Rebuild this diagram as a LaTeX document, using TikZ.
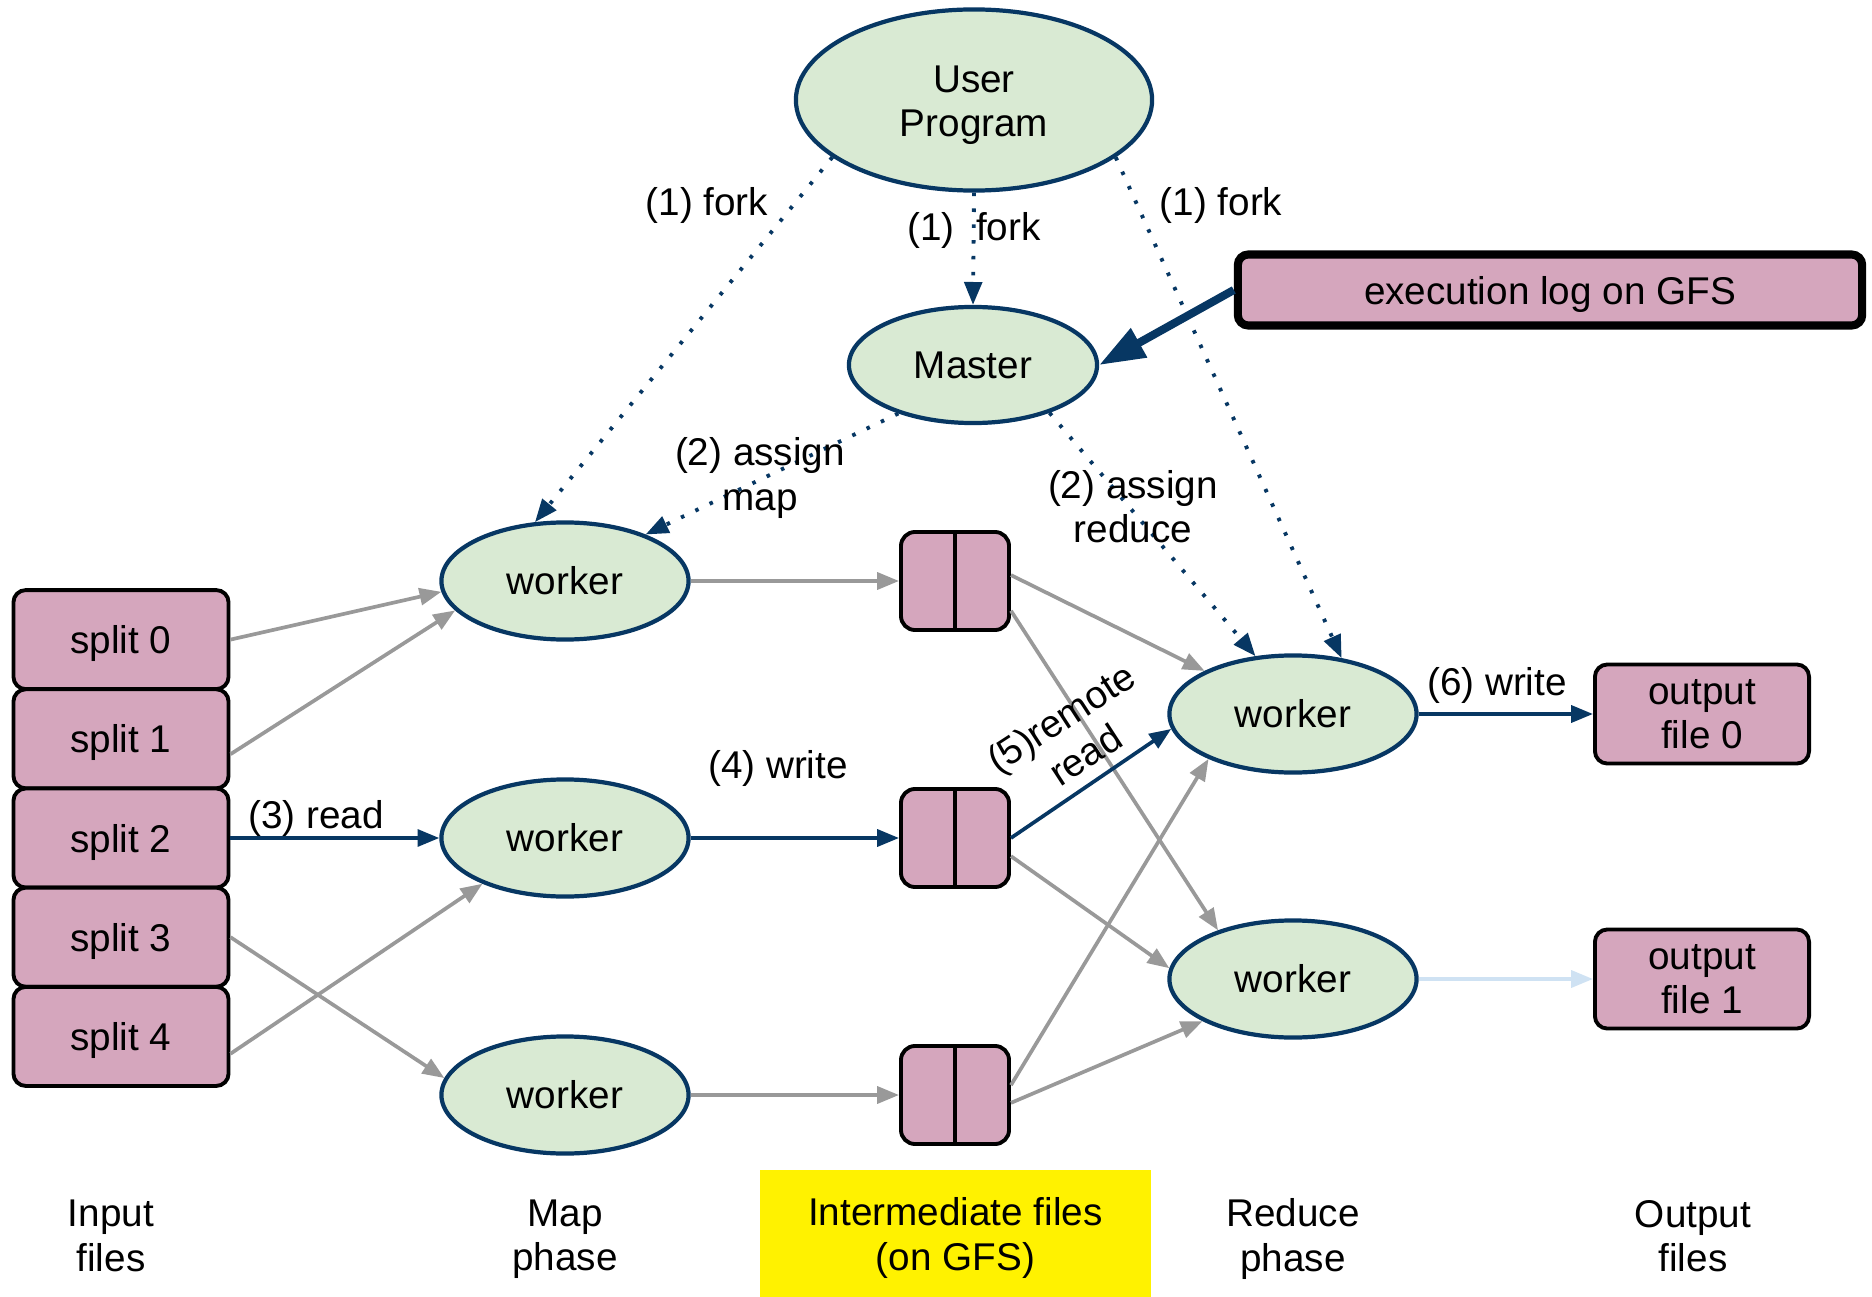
\documentclass[tikz,border=0pt]{standalone}
\usepackage{fontspec}
\setmainfont{Liberation Sans}
\usetikzlibrary{shapes.geometric,arrows.meta}
\definecolor{navy}{HTML}{073763}
\definecolor{lgreen}{HTML}{D9EAD3}
\definecolor{pinkf}{HTML}{D5A6BD}
\definecolor{grayar}{HTML}{999999}
\definecolor{lblue}{HTML}{CFE2F3}
\begin{document}
\begin{tikzpicture}[x=0.01cm,y=-0.01cm, font=\fontsize{11}{12.6}\selectfont,
  proc/.style={ellipse, draw=navy, line width=1.2pt, fill=lgreen, inner sep=0pt, align=center},
  filebox/.style={draw=black, line width=1.1pt, fill=pinkf, rounded corners=3.5pt, inner sep=0pt, align=center, text depth=0pt},
  worker/.style={proc, minimum width=2.47cm, minimum height=1.17cm},
  split/.style={filebox, minimum width=2.15cm, minimum height=0.99cm},
  inter/.style={filebox, rounded corners=4pt, minimum width=1.08cm, minimum height=0.98cm},
  outbox/.style={filebox, minimum width=2.14cm, minimum height=0.99cm},
  garr/.style={draw=grayar, line width=1.05pt, -{Triangle[length=6.2pt,width=4.8pt]}},
  barr/.style={draw=navy, line width=1.05pt, -{Triangle[length=6.2pt,width=4.8pt]}},
  larr/.style={draw=lblue, line width=1.05pt, -{Triangle[length=6.2pt,width=4.8pt]}},
  darr/.style={draw=navy, line width=1.1pt, dash pattern=on 1pt off 3.5pt, -{Triangle[length=6.5pt,width=5pt]}},
  lbl/.style={align=center, inner sep=0pt}
]
\useasboundingbox (0,0) rectangle (1872,1297);
% bottom labels
\fill[yellow] (760,1170) rectangle (1151,1297);
\node[lbl] (interlbl) at (955.5,1238) {Intermediate files\\(on GFS)};
\node[lbl] (inlbl) at (111,1236) {Input\\files};
\node[lbl] (maplbl) at (565,1239) {Map\\phase};
\node[lbl] (redlbl) at (1293,1239) {Reduce\\phase};
\node[lbl] (outlbl) at (1693,1236) {Output\\files};

% main nodes
\node[proc, minimum width=3.56cm, minimum height=1.81cm] (user) at (974,100) {\rule{0pt}{10.7pt}User\\Program};
\node[proc, minimum width=2.48cm, minimum height=1.16cm] (master) at (973,365) {Master};
\node[filebox, line width=2.3pt, rounded corners=3pt, minimum width=6.24cm, minimum height=0.71cm] (log) at (1550,290) {execution log on GFS};

\node[worker] (w1) at (565,581) {worker};
\node[worker] (w2) at (565,838) {worker};
\node[worker] (w3) at (565,1095) {worker};
\node[worker] (r1) at (1293,714) {worker};
\node[worker] (r2) at (1293,979) {worker};

\node[split] (s0) at (121,639.6) {split 0};
\node[split] (s1) at (121,738.8) {split 1};
\node[split] (s2) at (121,838) {split 2};
\node[split] (s3) at (121,937.2) {split 3};
\node[split] (s4) at (121,1036.4) {split 4};

\foreach \n/\y in {i1/581, i2/838, i3/1095}{
  \node[inter] (\n) at (955,\y) {};
  \draw[line width=1.1pt] (\n.north) -- (\n.south);
}

\node[outbox] (o0) at (1702,714) {output\\file 0};
\node[outbox] (o1) at (1702,979) {output\\file 1};

% dotted fork / assign arrows
\draw[darr] (user.202) -- (w1.117);
\draw[darr] (user.south) -- (master.north);
\draw[darr] (user.338) -- (r1.49);
\draw[darr] (master.213) -- (w1.30);
\draw[darr] (master.328) -- (r1.123);
\draw[navy, line width=2.3pt, -{Triangle[length=13pt,width=9pt]}] (log.west) -- (master.east);

% input -> map
\draw[garr] (s0.east) -- (w1.185);
\draw[garr] (s1.352) -- (w1.195);
\draw[barr] (s2.east) -- (w2.west);
\draw[garr] (s3.east) -- (w3.172);
\draw[garr] (s4.351) -- (w2.209);

% map -> intermediate
\draw[garr] (w1.east) -- (i1.west);
\draw[barr] (w2.east) -- (i2.west);
\draw[garr] (w3.east) -- (i3.west);

% intermediate -> reduce
\draw[garr] (i1.6) -- (r1.154);
\draw[garr] (i1.332) -- (r2.147);
\draw[barr] (i2.east) -- (r1.187);
\draw[garr] (i2.342) -- (r2.175);
\draw[garr] (i3.10) -- (r1.208);
\draw[garr] (i3.352) -- (r2.205);

% reduce -> output
\draw[barr] (r1.east) -- (o0.west);
\draw[larr] (r2.east) -- (o1.west);

% labels
\node[lbl] (f1) at (707,205) {(1) fork};
\node[lbl] (f2) at (974,230) {(1)\ \ fork};
\node[lbl] (f3) at (1221,205) {(1) fork};
\node[lbl] (am) at (760,478) {(2) assign\\map};
\node[lbl] (ar) at (1133,507) {(2) assign\\reduce};
\node[lbl] (rd) at (316,818) {(3) read};
\node[lbl] (wr4) at (778,768) {(4) write};
\node[lbl, rotate=33] (rr) at (1073,736) {(5)remote\\read};
\node[lbl] (wr6) at (1497,685) {(6) write};
\end{tikzpicture}
\end{document}
